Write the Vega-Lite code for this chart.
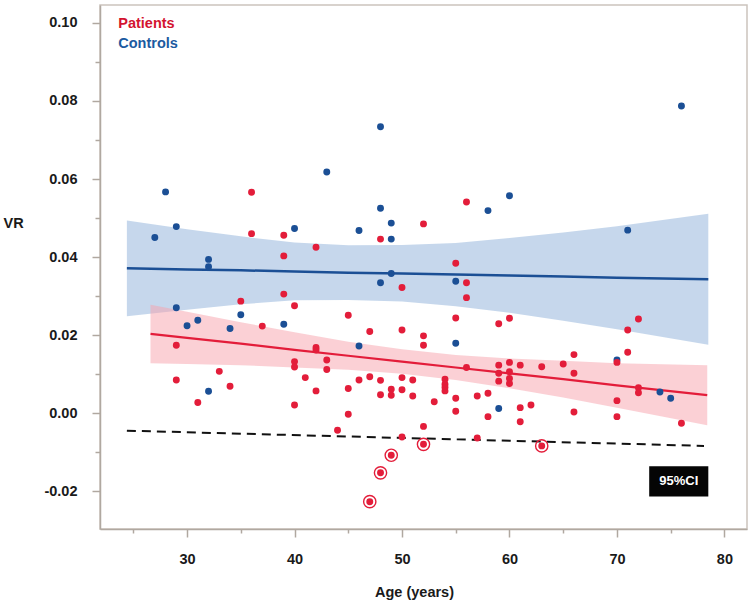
{
  "$schema": "https://vega.github.io/schema/vega-lite/v6.json",
  "width": 647,
  "height": 524,
  "autosize": "none",
  "padding": {"left": 100, "top": 5, "right": 3, "bottom": 75},
  "background": "white",
  "config": {
    "view": {"stroke": "#cbc4bd", "strokeWidth": 1.5},
    "font": "Liberation Sans"
  },
  "datasets": {
    "points": [
      {"group": "Controls", "age": 27, "vr": 0.0450},
      {"group": "Controls", "age": 28, "vr": 0.0567},
      {"group": "Controls", "age": 29, "vr": 0.0478},
      {"group": "Controls", "age": 29, "vr": 0.0270},
      {"group": "Controls", "age": 30, "vr": 0.0224},
      {"group": "Controls", "age": 31, "vr": 0.0238},
      {"group": "Controls", "age": 32, "vr": 0.0394},
      {"group": "Controls", "age": 32, "vr": 0.0375},
      {"group": "Controls", "age": 32, "vr": 0.0056},
      {"group": "Controls", "age": 34, "vr": 0.0217},
      {"group": "Controls", "age": 35, "vr": 0.0252},
      {"group": "Controls", "age": 39, "vr": 0.0228},
      {"group": "Controls", "age": 40, "vr": 0.0473},
      {"group": "Controls", "age": 43, "vr": 0.0618},
      {"group": "Controls", "age": 46, "vr": 0.0468},
      {"group": "Controls", "age": 46, "vr": 0.0172},
      {"group": "Controls", "age": 48, "vr": 0.0734},
      {"group": "Controls", "age": 48, "vr": 0.0525},
      {"group": "Controls", "age": 48, "vr": 0.0334},
      {"group": "Controls", "age": 49, "vr": 0.0487},
      {"group": "Controls", "age": 49, "vr": 0.0446},
      {"group": "Controls", "age": 49, "vr": 0.0358},
      {"group": "Controls", "age": 55, "vr": 0.0338},
      {"group": "Controls", "age": 55, "vr": 0.0179},
      {"group": "Controls", "age": 58, "vr": 0.0519},
      {"group": "Controls", "age": 59, "vr": 0.0012},
      {"group": "Controls", "age": 60, "vr": 0.0557},
      {"group": "Controls", "age": 70, "vr": 0.0136},
      {"group": "Controls", "age": 71, "vr": 0.0469},
      {"group": "Controls", "age": 74, "vr": 0.0054},
      {"group": "Controls", "age": 75, "vr": 0.0038},
      {"group": "Controls", "age": 76, "vr": 0.0787},
      {"group": "Patients", "age": 29, "vr": 0.0174},
      {"group": "Patients", "age": 29, "vr": 0.0085},
      {"group": "Patients", "age": 31, "vr": 0.0027},
      {"group": "Patients", "age": 33, "vr": 0.0107},
      {"group": "Patients", "age": 34, "vr": 0.0069},
      {"group": "Patients", "age": 35, "vr": 0.0287},
      {"group": "Patients", "age": 36, "vr": 0.0566},
      {"group": "Patients", "age": 36, "vr": 0.0460},
      {"group": "Patients", "age": 37, "vr": 0.0223},
      {"group": "Patients", "age": 39, "vr": 0.0456},
      {"group": "Patients", "age": 39, "vr": 0.0403},
      {"group": "Patients", "age": 39, "vr": 0.0305},
      {"group": "Patients", "age": 40, "vr": 0.0275},
      {"group": "Patients", "age": 40, "vr": 0.0132},
      {"group": "Patients", "age": 40, "vr": 0.0118},
      {"group": "Patients", "age": 40, "vr": 0.0021},
      {"group": "Patients", "age": 41, "vr": 0.0091},
      {"group": "Patients", "age": 42, "vr": 0.0425},
      {"group": "Patients", "age": 42, "vr": 0.0168},
      {"group": "Patients", "age": 42, "vr": 0.0162},
      {"group": "Patients", "age": 42, "vr": 0.0057},
      {"group": "Patients", "age": 43, "vr": 0.0136},
      {"group": "Patients", "age": 43, "vr": 0.0112},
      {"group": "Patients", "age": 44, "vr": -0.0044},
      {"group": "Patients", "age": 45, "vr": 0.0251},
      {"group": "Patients", "age": 45, "vr": 0.0063},
      {"group": "Patients", "age": 45, "vr": -0.0003},
      {"group": "Patients", "age": 46, "vr": 0.0085},
      {"group": "Patients", "age": 47, "vr": 0.0209},
      {"group": "Patients", "age": 47, "vr": 0.0093},
      {"group": "Patients", "age": 47, "vr": -0.0227, "outlier": true},
      {"group": "Patients", "age": 48, "vr": 0.0446},
      {"group": "Patients", "age": 48, "vr": 0.0084},
      {"group": "Patients", "age": 48, "vr": 0.0047},
      {"group": "Patients", "age": 48, "vr": -0.0153, "outlier": true},
      {"group": "Patients", "age": 49, "vr": 0.0061},
      {"group": "Patients", "age": 49, "vr": 0.0046},
      {"group": "Patients", "age": 49, "vr": -0.0108, "outlier": true},
      {"group": "Patients", "age": 50, "vr": 0.0322},
      {"group": "Patients", "age": 50, "vr": 0.0213},
      {"group": "Patients", "age": 50, "vr": 0.0091},
      {"group": "Patients", "age": 50, "vr": 0.0060},
      {"group": "Patients", "age": 50, "vr": -0.0061},
      {"group": "Patients", "age": 51, "vr": 0.0085},
      {"group": "Patients", "age": 51, "vr": 0.0044},
      {"group": "Patients", "age": 52, "vr": 0.0485},
      {"group": "Patients", "age": 52, "vr": 0.0198},
      {"group": "Patients", "age": 52, "vr": 0.0174},
      {"group": "Patients", "age": 52, "vr": -0.0034},
      {"group": "Patients", "age": 52, "vr": -0.0080, "outlier": true},
      {"group": "Patients", "age": 53, "vr": 0.0029},
      {"group": "Patients", "age": 54, "vr": 0.0087},
      {"group": "Patients", "age": 54, "vr": 0.0074},
      {"group": "Patients", "age": 54, "vr": 0.0066},
      {"group": "Patients", "age": 54, "vr": 0.0057},
      {"group": "Patients", "age": 55, "vr": 0.0384},
      {"group": "Patients", "age": 55, "vr": 0.0244},
      {"group": "Patients", "age": 55, "vr": 0.0038},
      {"group": "Patients", "age": 55, "vr": 0.0005},
      {"group": "Patients", "age": 56, "vr": 0.0541},
      {"group": "Patients", "age": 56, "vr": 0.0334},
      {"group": "Patients", "age": 56, "vr": 0.0296},
      {"group": "Patients", "age": 56, "vr": 0.0117},
      {"group": "Patients", "age": 57, "vr": 0.0044},
      {"group": "Patients", "age": 57, "vr": -0.0064},
      {"group": "Patients", "age": 58, "vr": 0.0051},
      {"group": "Patients", "age": 58, "vr": -0.0009},
      {"group": "Patients", "age": 59, "vr": 0.0229},
      {"group": "Patients", "age": 59, "vr": 0.0123},
      {"group": "Patients", "age": 59, "vr": 0.0102},
      {"group": "Patients", "age": 59, "vr": 0.0082},
      {"group": "Patients", "age": 60, "vr": 0.0243},
      {"group": "Patients", "age": 60, "vr": 0.0130},
      {"group": "Patients", "age": 60, "vr": 0.0106},
      {"group": "Patients", "age": 60, "vr": 0.0089},
      {"group": "Patients", "age": 60, "vr": 0.0076},
      {"group": "Patients", "age": 61, "vr": 0.0123},
      {"group": "Patients", "age": 61, "vr": 0.0014},
      {"group": "Patients", "age": 61, "vr": -0.0022},
      {"group": "Patients", "age": 62, "vr": 0.0021},
      {"group": "Patients", "age": 63, "vr": 0.0119},
      {"group": "Patients", "age": 63, "vr": -0.0084, "outlier": true},
      {"group": "Patients", "age": 65, "vr": 0.0126},
      {"group": "Patients", "age": 66, "vr": 0.0150},
      {"group": "Patients", "age": 66, "vr": 0.0102},
      {"group": "Patients", "age": 66, "vr": 0.0003},
      {"group": "Patients", "age": 70, "vr": 0.0130},
      {"group": "Patients", "age": 70, "vr": 0.0032},
      {"group": "Patients", "age": 70, "vr": -0.0009},
      {"group": "Patients", "age": 71, "vr": 0.0213},
      {"group": "Patients", "age": 71, "vr": 0.0156},
      {"group": "Patients", "age": 72, "vr": 0.0241},
      {"group": "Patients", "age": 72, "vr": 0.0065},
      {"group": "Patients", "age": 72, "vr": 0.0052},
      {"group": "Patients", "age": 76, "vr": -0.0026}
    ],
    "bands": [
      {"group": "Controls", "age": 24.4, "fit": 0.0371, "lo": 0.0248, "hi": 0.0494},
      {"group": "Controls", "age": 30, "fit": 0.0368, "lo": 0.0265, "hi": 0.0471},
      {"group": "Controls", "age": 35, "fit": 0.0366, "lo": 0.0279, "hi": 0.0453},
      {"group": "Controls", "age": 40, "fit": 0.0363, "lo": 0.0289, "hi": 0.0437},
      {"group": "Controls", "age": 45, "fit": 0.0360, "lo": 0.0290, "hi": 0.0430},
      {"group": "Controls", "age": 50, "fit": 0.0358, "lo": 0.0286, "hi": 0.0431},
      {"group": "Controls", "age": 55, "fit": 0.0355, "lo": 0.0274, "hi": 0.0436},
      {"group": "Controls", "age": 60, "fit": 0.0353, "lo": 0.0257, "hi": 0.0449},
      {"group": "Controls", "age": 65, "fit": 0.0350, "lo": 0.0237, "hi": 0.0463},
      {"group": "Controls", "age": 70, "fit": 0.0347, "lo": 0.0215, "hi": 0.0479},
      {"group": "Controls", "age": 78.5, "fit": 0.0343, "lo": 0.0175, "hi": 0.0511},
      {"group": "Patients", "age": 26.6, "fit": 0.0203, "lo": 0.0128, "hi": 0.0278},
      {"group": "Patients", "age": 30, "fit": 0.0193, "lo": 0.0126, "hi": 0.0260},
      {"group": "Patients", "age": 35, "fit": 0.0178, "lo": 0.0123, "hi": 0.0233},
      {"group": "Patients", "age": 40, "fit": 0.0162, "lo": 0.0117, "hi": 0.0207},
      {"group": "Patients", "age": 45, "fit": 0.0147, "lo": 0.0111, "hi": 0.0183},
      {"group": "Patients", "age": 50, "fit": 0.0132, "lo": 0.0101, "hi": 0.0164},
      {"group": "Patients", "age": 55, "fit": 0.0117, "lo": 0.0085, "hi": 0.0149},
      {"group": "Patients", "age": 60, "fit": 0.0102, "lo": 0.0064, "hi": 0.0140},
      {"group": "Patients", "age": 65, "fit": 0.0087, "lo": 0.0040, "hi": 0.0134},
      {"group": "Patients", "age": 70, "fit": 0.0071, "lo": 0.0014, "hi": 0.0128},
      {"group": "Patients", "age": 78.4, "fit": 0.0046, "lo": -0.0031, "hi": 0.0123}
    ],
    "limit": [
      {"age": 24.4, "vr": -0.0045},
      {"age": 78.1, "vr": -0.0084}
    ],
    "legend": [
      {"group": "Patients", "age": 23.6, "vr": 0.0997},
      {"group": "Controls", "age": 23.6, "vr": 0.0946}
    ],
    "cibox": [
      {"label": "95%CI", "x0": 73.0, "x1": 78.5, "y0": -0.0136, "y1": -0.0214, "xm": 75.75, "ym": -0.0175}
    ]
  },
  "encoding": {
    "x": {
      "field": "age",
      "type": "quantitative",
      "scale": {"domain": [21.9, 82.1], "nice": false, "zero": false},
      "axis": {
        "title": "Age (years)",
        "values": [25, 30, 35, 40, 45, 50, 55, 60, 65, 70, 75, 80],
        "labelExpr": "datum.value % 10 == 0 ? datum.label : ''",
        "grid": false,
        "tickSize": {"condition": {"test": "datum.value % 10 == 0", "value": 8}, "value": 4},
        "tickColor": "#b0a8a0",
        "tickWidth": 1.5,
        "domainColor": "#b0a8a0",
        "domainWidth": 1.5,
        "labelFont": "Liberation Sans",
        "labelFontSize": 14.5,
        "labelFontWeight": "bold",
        "labelColor": "#1a1a1a",
        "labelBaseline": "top",
        "labelPadding": 15,
        "titleFont": "Liberation Sans",
        "titleFontSize": 14.5,
        "titleFontWeight": "bold",
        "titleColor": "#1a1a1a",
        "titleAlign": "center",
        "titleBaseline": "alphabetic",
        "titleX": 314,
        "titleY": 67
      }
    },
    "y": {
      "field": "vr",
      "type": "quantitative",
      "scale": {"domain": [-0.0297, 0.1046], "nice": false, "zero": false},
      "axis": {
        "title": "VR",
        "values": [-0.02, -0.01, 0, 0.01, 0.02, 0.03, 0.04, 0.05, 0.06, 0.07, 0.08, 0.09, 0.1],
        "labelExpr": "abs(round(datum.value * 100)) % 2 == 0 ? (datum.value < 0 ? '-' + format(-datum.value, '.2f') : format(datum.value, '.2f')) : ''",
        "grid": false,
        "tickSize": {"condition": {"test": "abs(round(datum.value * 100)) % 2 == 0", "value": 8}, "value": 5},
        "tickColor": "#b0a8a0",
        "tickWidth": 1.5,
        "domainColor": "#b0a8a0",
        "domainWidth": 1.5,
        "labelFont": "Liberation Sans",
        "labelFontSize": 14.5,
        "labelFontWeight": "bold",
        "labelColor": "#1a1a1a",
        "labelPadding": 15,
        "titleFont": "Liberation Sans",
        "titleFontSize": 14.5,
        "titleFontWeight": "bold",
        "titleColor": "#1a1a1a",
        "titleAngle": 0,
        "titleAlign": "left",
        "titleBaseline": "middle",
        "titleX": -97,
        "titleY": 218
      }
    }
  },
  "layer": [
    {
      "data": {"name": "bands"},
      "transform": [{"filter": "datum.group == 'Controls'"}],
      "mark": {"type": "area", "color": "#a8c2e2", "opacity": 0.66},
      "encoding": {"y": {"field": "lo", "type": "quantitative"}, "y2": {"field": "hi"}}
    },
    {
      "data": {"name": "bands"},
      "transform": [{"filter": "datum.group == 'Patients'"}],
      "mark": {"type": "area", "color": "#f8a2ab", "opacity": 0.5},
      "encoding": {"y": {"field": "lo", "type": "quantitative"}, "y2": {"field": "hi"}}
    },
    {
      "data": {"name": "bands"},
      "transform": [{"filter": "datum.group == 'Controls'"}],
      "mark": {"type": "line", "color": "#1b4f95", "strokeWidth": 2.5},
      "encoding": {"y": {"field": "fit", "type": "quantitative"}}
    },
    {
      "data": {"name": "bands"},
      "transform": [{"filter": "datum.group == 'Patients'"}],
      "mark": {"type": "line", "color": "#e31d3a", "strokeWidth": 2.2},
      "encoding": {"y": {"field": "fit", "type": "quantitative"}}
    },
    {
      "data": {"name": "limit"},
      "mark": {"type": "line", "color": "#111111", "strokeWidth": 2, "strokeDash": [9, 6]},
      "encoding": {}
    },
    {
      "data": {"name": "points"},
      "transform": [{"filter": "datum.outlier == true"}],
      "mark": {"type": "point", "shape": "circle", "filled": false, "size": 150, "color": "#e31d3a", "strokeWidth": 1.4, "opacity": 1},
      "encoding": {}
    },
    {
      "data": {"name": "points"},
      "mark": {"type": "circle", "size": 48, "opacity": 1},
      "encoding": {
        "color": {
          "field": "group",
          "type": "nominal",
          "scale": {"domain": ["Patients", "Controls"], "range": ["#e31d3a", "#1b4f95"]},
          "legend": null
        }
      }
    },
    {
      "data": {"name": "legend"},
      "mark": {"type": "text", "align": "left", "baseline": "middle", "font": "Liberation Sans", "fontSize": 14.5, "fontWeight": "bold"},
      "encoding": {
        "text": {"field": "group"},
        "color": {
          "field": "group",
          "type": "nominal",
          "scale": {"domain": ["Patients", "Controls"], "range": ["#d3132f", "#1b5aa0"]},
          "legend": null
        }
      }
    },
    {
      "data": {"name": "cibox"},
      "mark": {"type": "rect", "color": "#050505"},
      "encoding": {
        "x": {"field": "x0", "type": "quantitative"},
        "x2": {"field": "x1"},
        "y": {"field": "y0", "type": "quantitative"},
        "y2": {"field": "y1"}
      }
    },
    {
      "data": {"name": "cibox"},
      "mark": {"type": "text", "align": "center", "baseline": "middle", "color": "white", "font": "Liberation Sans", "fontSize": 13, "fontWeight": "bold"},
      "encoding": {
        "x": {"field": "xm", "type": "quantitative"},
        "y": {"field": "ym", "type": "quantitative"},
        "text": {"field": "label"}
      }
    }
  ],
  "resolve": {"scale": {"color": "independent"}}
}
